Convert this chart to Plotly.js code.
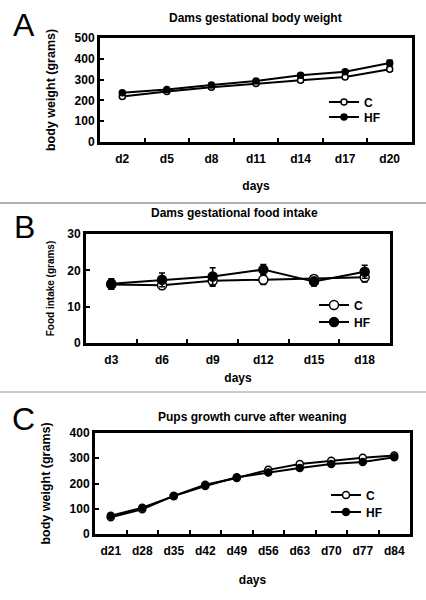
<!DOCTYPE html>
<html>
<head>
<meta charset="utf-8">
<script src="https://cdn.plot.ly/plotly-3.0.1.min.js"></script>
<style>html,body{margin:0;padding:0;background:#fff;}#chart{width:426px;height:600px;}</style>
</head>
<body>
<div id="chart"></div>
<script>
// Panel A: Dams gestational body weight
const daysA = ['d2','d5','d8','d11','d14','d17','d20'];
const aC = [219,243,263,281,297,313,350];
const aCerr = [6,6,6,7,8,8,10];
const aHF = [237,253,274,293,321,338,380];
const aHFerr = [6,6,7,7,8,9,13];

// Panel B: Dams gestational food intake
const daysB = ['d3','d6','d9','d12','d15','d18'];
const bC = [16.1,15.9,17.1,17.4,17.6,18.1];
const bCerr = [1.3,1.1,1.5,1.3,0.8,1.3];
const bHF = [16.3,17.4,18.3,20.2,16.9,19.6];
const bHFerr = [1.4,1.9,2.4,1.4,1.2,1.8];

// Panel C: Pups growth curve after weaning
const daysC = ['d21','d28','d35','d42','d49','d56','d63','d70','d77','d84'];
const cC = [66,98,151,195,222,254,277,290,302,311];
const cCerr = [4,4,5,5,5,5,5,5,5,5];
const cHF = [72,104,150,190,225,244,261,277,285,304];
const cHFerr = [4,4,5,5,5,5,5,5,5,5];

const FAM = 'Liberation Sans, Arial, sans-serif';
const W = 426, H = 600;
const px = v => v / W;
const py = v => 1 - v / H;

function series(x, y, err, name, open, size, xa, ya, leg) {
  return {
    type: 'scatter', mode: 'lines+markers', x: x, y: y, name: name,
    xaxis: xa, yaxis: ya, legend: leg,
    error_y: {type: 'data', array: err, visible: true, color: '#000', thickness: 1.5, width: 3},
    line: {color: '#000', width: 2},
    marker: {symbol: 'circle', size: size, color: open ? '#fff' : '#000', line: {color: '#000', width: 1.5}}
  };
}

const data = [
  series(daysA, aC, aCerr, 'C', true, 6, 'x', 'y', 'legend'),
  series(daysA, aHF, aHFerr, 'HF', false, 6, 'x', 'y', 'legend2'),
  series(daysB, bC, bCerr, 'C', true, 9, 'x2', 'y2', 'legend3'),
  series(daysB, bHF, bHFerr, 'HF', false, 9, 'x2', 'y2', 'legend4'),
  series(daysC, cC, cCerr, 'C', true, 7, 'x3', 'y3', 'legend5'),
  series(daysC, cHF, cHFerr, 'HF', false, 7, 'x3', 'y3', 'legend6')
];

const tf = {family: FAM, size: 12, weight: 'bold', color: '#000'};

function xax(dom, n, anchor, standoff) {
  return {
    domain: dom, anchor: anchor, type: 'category', range: [-0.5, n - 0.5],
    showline: true, mirror: true, linewidth: 3, linecolor: '#000',
    ticks: 'inside', tickson: 'boundaries', ticklen: 4, tickwidth: 2, tickcolor: '#000',
    showgrid: false, zeroline: false, tickfont: tf, ticklabelstandoff: 4,
    title: {text: 'days', font: tf, standoff: standoff}
  };
}
function yax(dom, rng, dt, anchor, title, tsize, standoff) {
  return {
    domain: dom, anchor: anchor, range: rng, dtick: dt,
    showline: true, mirror: true, linewidth: 3, linecolor: '#000',
    ticks: 'inside', ticklen: 4, tickwidth: 2, tickcolor: '#000',
    showgrid: false, zeroline: false, tickfont: tf,
    title: {text: title, font: {family: FAM, size: tsize, weight: 'bold', color: '#000'}, standoff: standoff}
  };
}

function leg(x, y) {
  return {x: px(x), y: py(y), xanchor: 'left', yanchor: 'middle', bgcolor: 'rgba(0,0,0,0)',
    font: {family: FAM, size: 12, weight: 'bold', color: '#000'}, tracegroupgap: 0, itemwidth: 30};
}

const annFont = (s, b) => ({family: FAM, size: s, weight: b ? 'bold' : 'normal', color: '#000'});
function ann(text, x, y, size, bold) {
  return {text: text, x: px(x), y: py(y), xref: 'paper', yref: 'paper', xanchor: 'center', yanchor: 'middle',
    showarrow: false, font: annFont(size, bold)};
}

const layout = {
  width: W, height: H, margin: {l: 0, r: 0, t: 0, b: 0},
  paper_bgcolor: '#fff', plot_bgcolor: '#fff', showlegend: true,
  xaxis: xax([px(100), px(412)], daysA.length, 'y', 17),
  yaxis: yax([py(142), py(38)], [0, 500], 100, 'x', 'body weight (grams)', 12.5, 17),
  xaxis2: xax([px(86), px(390)], daysB.length, 'y2', 8),
  yaxis2: yax([py(343), py(234)], [0, 30], 10, 'x2', 'Food intake (grams)', 10, 11),
  xaxis3: xax([px(95), px(410)], daysC.length, 'y3', 19),
  yaxis3: yax([py(534), py(433)], [0, 400], 100, 'x3', 'body weight (grams)', 12.5, 17),
  legend: leg(324, 102),
  legend2: leg(324, 117),
  legend3: leg(314, 305),
  legend4: leg(314, 322),
  legend5: leg(326, 495),
  legend6: leg(326, 512),
  annotations: [
    ann('Dams gestational body weight', 255, 18, 12, true),
    ann('Dams gestational food intake', 234, 213, 12, true),
    ann('Pups growth curve after weaning', 252, 417, 12, true),
    ann('A', 24, 25, 32, false),
    ann('B', 24, 227, 32, false),
    ann('C', 23, 419, 32, false)
  ],
  shapes: [
    {type: 'line', xref: 'paper', yref: 'paper', x0: 0, x1: 1, y0: py(203), y1: py(203), line: {color: '#999', width: 1.5}},
    {type: 'line', xref: 'paper', yref: 'paper', x0: 0, x1: 1, y0: py(392), y1: py(392), line: {color: '#bbb', width: 1.5}}
  ]
};

Plotly.newPlot('chart', data, layout, {staticPlot: true, displayModeBar: false});
</script>
</body>
</html>
